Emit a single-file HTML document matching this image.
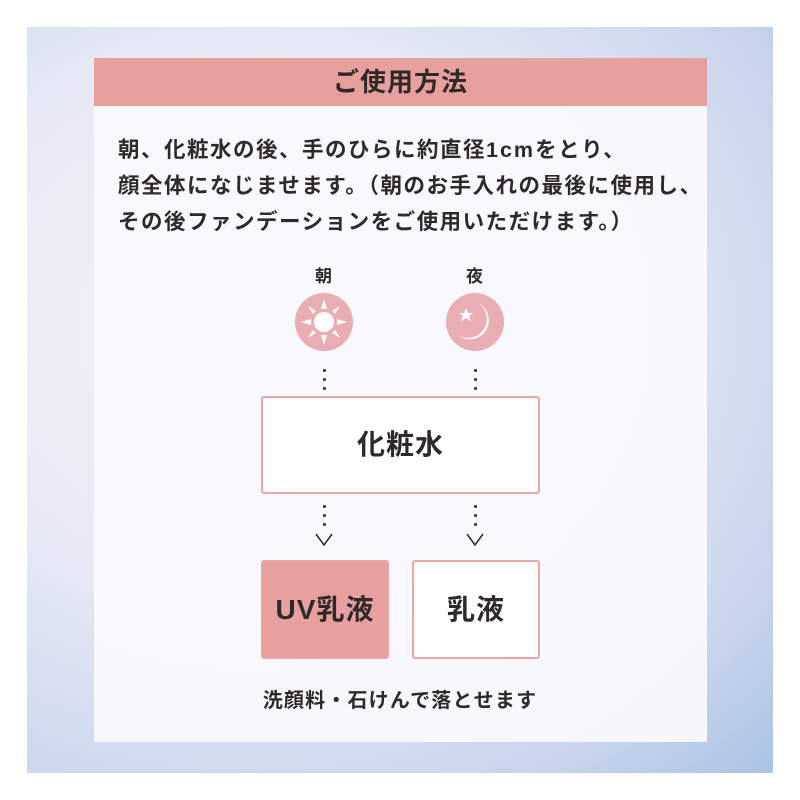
<!DOCTYPE html>
<html><head><meta charset="utf-8"><style>
*{margin:0;padding:0;box-sizing:border-box}
body{width:800px;height:800px;background:#fff;position:relative;overflow:hidden;font-family:"Liberation Sans","Noto Sans CJK JP",sans-serif;font-weight:bold;color:#2e2a2a}
.bg{position:absolute;left:27px;top:27px;width:746px;height:746px;background:radial-gradient(ellipse at 30% 40%,#f4f4fa 0%,#e6e9f5 45%,#c9d5ec 80%,#aac3e6 100%)}
.card{position:absolute;left:94px;top:58px;width:613px;height:684px;background:rgba(250,250,253,0.93)}
.hd{position:absolute;left:0;top:0;width:613px;height:48px;background:#e8a09f;text-align:center;font-size:26px;line-height:48px;color:#2e2a2a;letter-spacing:1px}
.p{position:absolute;left:24px;top:74px;font-size:21.5px;line-height:36px;white-space:nowrap;letter-spacing:1.5px}
.a{position:absolute;font-size:17px}
.c{position:absolute;width:58px;height:58px;border-radius:50%;background:#e8aeb3}
.box{position:absolute;border:2px solid #eaa5a8;background:#fff;border-radius:3px;text-align:center;font-size:28px;letter-spacing:1px}
.dot{position:absolute;width:3px;height:3px;border-radius:50%;background:#2e2a2a}
</style></head><body>
<div class="bg"></div>
<div class="card">
<div class="hd">ご使用方法</div>
<div class="p">朝、化粧水の後、手のひらに約直径<span style="letter-spacing:2px">1cm</span>をとり、<br>顔全体になじませます。（朝のお手入れの最後に使用し、<br>その後ファンデーションをご使用いただけます。）</div>
</div>
<div class="a" style="left:315px;top:262px">朝</div>
<div class="a" style="left:466px;top:262px">夜</div>
<div class="c" style="left:295px;top:293px"></div>
<div class="c" style="left:446px;top:293px"></div>
<svg style="position:absolute;left:0;top:0" width="800" height="800">
<g fill="#fff">
<circle cx="324" cy="322" r="10"/>
<polygon points="324,299 321,309 327,309"/><polygon points="324,345 321,335 327,335"/>
<polygon points="301,322 311,319 311,325"/><polygon points="347,322 337,319 337,325"/>
<polygon points="308,306 313,314 316,311"/><polygon points="340,306 335,314 332,311"/>
<polygon points="308,338 313,330 316,333"/><polygon points="340,338 335,330 332,333"/>
<path d="M478,303 A19,19 0 1 1 458,335 A15,15 0 0 0 478,303Z"/>
<polygon points="466,308 468,313 473,313 469,316 471,321 466,318 461,321 463,316 459,313 464,313"/>
</g>
<g fill="none" stroke="#2e2a2a" stroke-width="1.5"><path d="M316,534 L324,545 L332,534"/><path d="M467,534 L475,545 L483,534"/></g>
</svg>
<div class="dot" style="left:323px;top:369px"></div><div class="dot" style="left:323px;top:378px"></div><div class="dot" style="left:323px;top:387px"></div>
<div class="dot" style="left:474px;top:369px"></div><div class="dot" style="left:474px;top:378px"></div><div class="dot" style="left:474px;top:387px"></div>
<div class="dot" style="left:323px;top:505px"></div><div class="dot" style="left:323px;top:514px"></div><div class="dot" style="left:323px;top:523px"></div>
<div class="dot" style="left:474px;top:505px"></div><div class="dot" style="left:474px;top:514px"></div><div class="dot" style="left:474px;top:523px"></div>
<div class="box" style="left:261px;top:396px;width:279px;height:98px;line-height:94px">化粧水</div>
<div class="box" style="left:261px;top:560px;width:128px;height:99px;line-height:95px;background:#e8a09f">UV乳液</div>
<div class="box" style="left:412px;top:560px;width:128px;height:99px;line-height:95px">乳液</div>
<div style="position:absolute;left:0;width:800px;top:684px;text-align:center;font-size:20px;letter-spacing:1.2px">洗顔料・石けんで落とせます</div>
</body></html>
